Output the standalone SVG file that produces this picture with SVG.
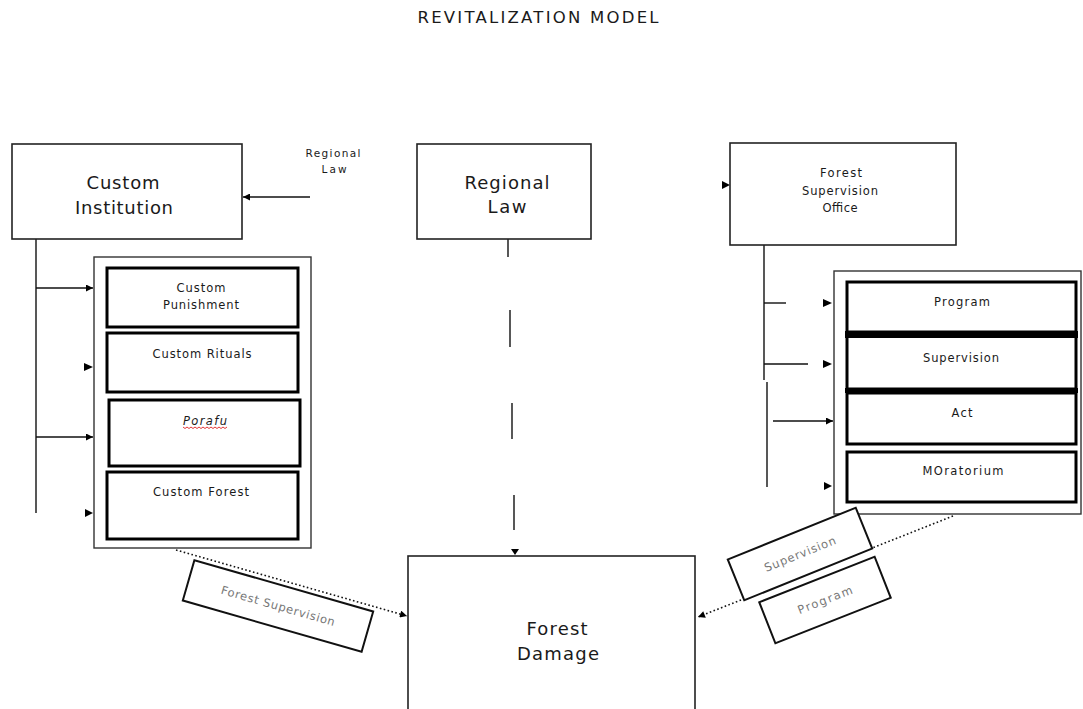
<svg xmlns="http://www.w3.org/2000/svg" width="1083" height="709" viewBox="0 0 1083 709">
<style>
text{font-family:"DejaVu Sans","Liberation Sans",sans-serif;fill:#1a1a1a;text-anchor:middle}
.big{font-size:18px}
.sm{font-size:11.5px}
.xs{font-size:10.5px}
.lbl{font-size:11.5px;fill:#777}
.box{fill:#fff;stroke:#222;stroke-width:1.6}
.inner{fill:#fff;stroke:#000;stroke-width:3}
.cont{fill:none;stroke:#333;stroke-width:1.4}
.rot{fill:#fff;stroke:#111;stroke-width:2}
.ln{fill:none;stroke:#111;stroke-width:1.4}
.dot{fill:none;stroke:#111;stroke-width:1.6;stroke-dasharray:1.6 2.4}
.head{fill:#000}
</style>
<defs>
<marker id="ah" viewBox="0 0 10 10" refX="10" refY="5" markerWidth="8" markerHeight="7" markerUnits="userSpaceOnUse" orient="auto">
<path d="M0,0 L10,5 L0,10 z" fill="#000"/>
</marker>
</defs>

<text id="title" x="538" y="23" style="font-size:16.5px" textLength="241" lengthAdjust="spacing">REVITALIZATION MODEL</text>

<g id="connectors">
<line class="ln" x1="36" y1="239" x2="36" y2="513"/>
<line class="ln" x1="36" y1="288" x2="93" y2="288" marker-end="url(#ah)"/>
<line class="ln" x1="36" y1="437" x2="93" y2="437" marker-end="url(#ah)"/>
<polygon class="head" points="84,363 93,367 84,371"/>
<polygon class="head" points="85,509 93,513 85,517"/>
<line class="ln" x1="310" y1="197" x2="243" y2="197" marker-end="url(#ah)"/>
<line class="ln" x1="508" y1="239" x2="508" y2="257"/>
<line class="ln" x1="510" y1="310" x2="510" y2="347"/>
<line class="ln" x1="512" y1="403" x2="512" y2="439"/>
<line class="ln" x1="514" y1="495" x2="514" y2="530"/>
<polygon class="head" points="511,549 519,549 515,555"/>
<polygon class="head" points="722,181 730,185 722,189"/>
<line class="ln" x1="764" y1="245" x2="764" y2="380"/>
<line class="ln" x1="767" y1="382" x2="767" y2="487"/>
<line class="ln" x1="764" y1="303" x2="786" y2="303"/>
<line class="ln" x1="764" y1="364" x2="808" y2="364"/>
<polygon class="head" points="823,299 832,303 823,307"/>
<polygon class="head" points="823,360 832,364 823,368"/>
<line class="ln" x1="773" y1="421" x2="833" y2="421" marker-end="url(#ah)"/>
<polygon class="head" points="824,482 832,486 824,490"/>
<line class="dot" x1="176" y1="550" x2="407" y2="616" marker-end="url(#ah)"/>
<line class="dot" x1="953" y1="516" x2="698" y2="617" marker-end="url(#ah)"/>
</g>

<g id="custom-institution">
<rect class="box" x="12" y="144" width="230" height="95"/>
<text class="big" x="123" y="189" textLength="73" lengthAdjust="spacing">Custom</text>
<text class="big" x="124" y="214" textLength="98" lengthAdjust="spacing">Institution</text>
</g>

<g id="regional-law-label">
<text class="xs" x="333" y="157" textLength="55" lengthAdjust="spacing">Regional</text>
<text class="xs" x="334" y="173" textLength="25" lengthAdjust="spacing">Law</text>
</g>

<g id="regional-law">
<rect class="box" x="417" y="144" width="174" height="95"/>
<text class="big" x="507" y="189" textLength="85" lengthAdjust="spacing">Regional</text>
<text class="big" x="507" y="213" textLength="39" lengthAdjust="spacing">Law</text>
</g>

<g id="forest-supervision-office">
<rect class="box" x="730" y="143" width="226" height="102"/>
<text class="sm" x="841" y="177" textLength="42" lengthAdjust="spacing">Forest</text>
<text class="sm" x="840" y="195" textLength="76" lengthAdjust="spacing">Supervision</text>
<text class="sm" x="840" y="212" textLength="35" lengthAdjust="spacing">Office</text>
</g>

<g id="custom-group">
<rect class="cont" x="94" y="257" width="217" height="291"/>
</g>
<g id="custom-punishment">
<rect class="inner" x="107" y="268" width="191" height="59"/>
<text class="sm" x="201" y="292" textLength="49" lengthAdjust="spacing">Custom</text>
<text class="sm" x="201" y="309" textLength="76" lengthAdjust="spacing">Punishment</text>
</g>
<g id="custom-rituals">
<rect class="inner" x="107" y="333" width="191" height="59"/>
<text class="sm" x="202" y="358" textLength="99" lengthAdjust="spacing">Custom Rituals</text>
</g>
<g id="porafu">
<rect class="inner" x="109" y="400" width="191" height="66"/>
<text class="sm" x="205" y="425" textLength="44" lengthAdjust="spacing" style="font-style:italic">Porafu</text>
<path d="M183,427 l2,1.5 l2,-1.5 l2,1.5 l2,-1.5 l2,1.5 l2,-1.5 l2,1.5 l2,-1.5 l2,1.5 l2,-1.5 l2,1.5 l2,-1.5 l2,1.5 l2,-1.5 l2,1.5 l2,-1.5 l2,1.5 l2,-1.5 l2,1.5 l2,-1.5 l2,1.5 l2,-1.5" fill="none" stroke="#e02020" stroke-width="0.9"/>
</g>
<g id="custom-forest">
<rect class="inner" x="107" y="472" width="191" height="67"/>
<text class="sm" x="201" y="496" textLength="96" lengthAdjust="spacing">Custom Forest</text>
</g>

<g id="supervision-group">
<rect class="cont" x="834" y="271" width="247" height="243"/>
</g>
<g id="program">
<rect class="inner" x="847" y="282" width="229" height="50"/>
<text class="sm" x="962" y="306" textLength="56" lengthAdjust="spacing">Program</text>
</g>
<g id="supervision">
<rect class="inner" x="847" y="336" width="229" height="53"/>
<rect x="845" y="331" width="233" height="7" fill="#000"/>
<rect x="845" y="388" width="233" height="5" fill="#000"/>
<text class="sm" x="961" y="362" textLength="76" lengthAdjust="spacing">Supervision</text>
</g>
<g id="act">
<rect class="inner" x="847" y="393" width="229" height="51"/>
<text class="sm" x="962" y="417" textLength="21" lengthAdjust="spacing">Act</text>
</g>
<g id="moratorium">
<rect class="inner" x="847" y="452" width="229" height="50"/>
<text class="sm" x="963" y="475" textLength="81" lengthAdjust="spacing">MOratorium</text>
</g>

<g id="forest-damage">
<rect class="box" x="408" y="556" width="287" height="170"/>
<text class="big" x="557" y="635" textLength="61" lengthAdjust="spacing">Forest</text>
<text class="big" x="558" y="660" textLength="82" lengthAdjust="spacing">Damage</text>
</g>

<g id="label-forest-supervision" transform="translate(278,606) rotate(16)">
<rect class="rot" x="-93" y="-21" width="186" height="42"/>
<text class="lbl" x="0" y="4" textLength="118" lengthAdjust="spacing">Forest Supervision</text>
</g>
<g id="label-supervision" transform="translate(800,554) rotate(-22)">
<rect class="rot" x="-69" y="-22" width="138" height="44"/>
<text class="lbl" x="0" y="4" textLength="76" lengthAdjust="spacing">Supervision</text>
</g>
<g id="label-program" transform="translate(825,600) rotate(-21.5)">
<rect class="rot" x="-62" y="-22" width="124" height="44"/>
<text class="lbl" x="0" y="4" textLength="58" lengthAdjust="spacing">Program</text>
</g>
</svg>
